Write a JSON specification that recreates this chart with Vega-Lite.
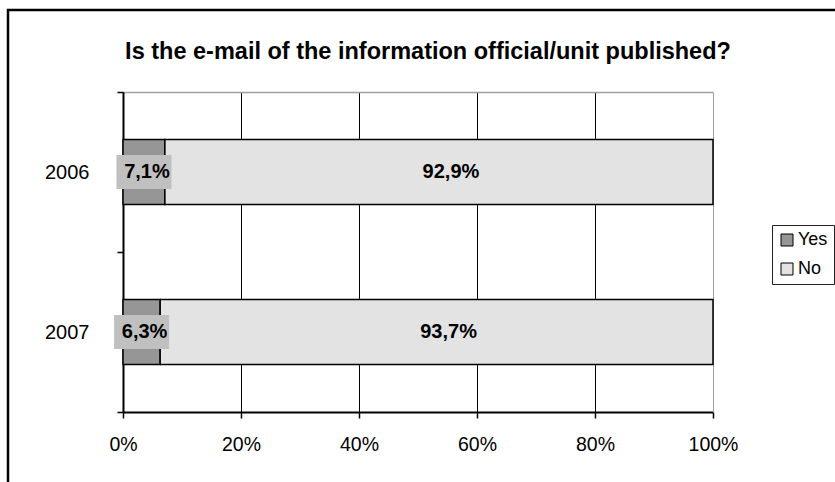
{
  "$schema": "https://vega.github.io/schema/vega-lite/v6.json",
  "width": 832,
  "height": 477,
  "autosize": {"type": "none"},
  "padding": {"left": 8, "top": 10, "right": 0, "bottom": 0},
  "background": "white",
  "title": {
    "text": "Is the e-mail of the information official/unit published?",
    "anchor": "middle",
    "frame": "group",
    "fontSize": 23.5,
    "fontWeight": "bold",
    "font": "Liberation Sans",
    "color": "black",
    "offset": -82,
    "baseline": "alphabetic",
    "dx": 4
  },
  "data": {
    "values": [
      {"year": "2006", "answer": "Yes", "value": 0.071},
      {"year": "2006", "answer": "No", "value": 0.929},
      {"year": "2007", "answer": "Yes", "value": 0.063},
      {"year": "2007", "answer": "No", "value": 0.937}
    ]
  },
  "encoding": {
    "y": {
      "field": "year",
      "type": "nominal",
      "scale": {"domain": ["2006", "2007"], "range": [82, 402], "paddingInner": 0, "paddingOuter": 0},
      "axis": {
        "orient": "left",
        "offset": -115,
        "tickBand": "extent",
        "domainColor": "black",
        "domainWidth": 2,
        "tickColor": "black",
        "tickWidth": 1.5,
        "tickSize": 6,
        "labelFontSize": 20,
        "labelColor": "black",
        "labelPadding": 28,
        "title": null,
        "grid": false
      }
    }
  },
  "layer": [
    {
      "mark": {"type": "bar", "stroke": "black", "strokeWidth": 1.5, "height": {"band": 0.406}},
      "encoding": {
        "x": {
          "field": "value",
          "type": "quantitative",
          "stack": "zero",
          "scale": {"domain": [0, 1], "range": [115, 705]},
          "axis": {
            "orient": "bottom",
            "offset": -75,
            "format": ".0%",
            "values": [0, 0.2, 0.4, 0.6, 0.8, 1],
            "grid": false,
            "labelFlush": false,
            "labelOverlap": false,
            "domainColor": "black",
            "domainWidth": 2,
            "tickColor": "black",
            "tickWidth": 1.5,
            "tickSize": 6,
            "labelFontSize": 19.5,
            "labelColor": "black",
            "labelPadding": 17,
            "title": null
          }
        },
        "color": {
          "field": "answer",
          "type": "nominal",
          "scale": {"domain": ["Yes", "No"], "range": ["#969696", "#e3e3e3"]},
          "legend": {
            "orient": "none",
            "legendX": 764,
            "legendY": 215,
            "title": null,
            "strokeColor": "#222",
            "fillColor": "white",
            "padding": 6,
            "symbolType": "square",
            "symbolSize": 144,
            "symbolStrokeColor": "black",
            "symbolStrokeWidth": 1,
            "labelFontSize": 18,
            "labelColor": "black",
            "rowPadding": 11,
            "labelOffset": 2
          }
        },
        "order": {"field": "answer", "sort": "descending"}
      }
    },
    {
      "mark": {"type": "point", "shape": "M-1,-0.618H1V0.618H-1Z", "size": 3025, "filled": true, "color": "#c0c0c0", "dx": 3},
      "encoding": {
        "x": {
          "field": "value",
          "type": "quantitative",
          "stack": "zero",
          "bandPosition": 0.5,
          "axis": {
            "orient": "top",
            "offset": -82,
            "values": [0, 0.2, 0.4, 0.6, 0.8, 1],
            "labels": false,
            "tickSize": -320,
            "tickWidth": 1,
            "tickColor": {"condition": {"test": "datum.value === 1", "value": "#a0a0a0"}, "value": "black"},
            "domainColor": "#a0a0a0",
            "domainWidth": 1.5,
            "grid": false,
            "title": null
          }
        },
        "detail": {"field": "answer"},
        "order": {"field": "answer", "sort": "descending"},
        "opacity": {"condition": {"test": "datum.answer === 'Yes'", "value": 1}, "value": 0}
      }
    },
    {
      "mark": {"type": "text", "fontWeight": "bold", "fontSize": 20, "color": "black", "dx": 3, "baseline": "middle"},
      "encoding": {
        "x": {"field": "value", "type": "quantitative", "stack": "zero", "bandPosition": 0.5, "axis": null},
        "detail": {"field": "answer"},
        "order": {"field": "answer", "sort": "descending"},
        "text": {"condition": {"test": "datum.answer === 'Yes'", "field": "value", "type": "quantitative", "format": ".1%"}, "value": ""}
      }
    },
    {
      "mark": {"type": "text", "fontWeight": "bold", "fontSize": 20, "color": "black", "dx": 12, "baseline": "middle"},
      "encoding": {
        "x": {"field": "value", "type": "quantitative", "stack": "zero", "bandPosition": 0.5, "axis": null},
        "detail": {"field": "answer"},
        "order": {"field": "answer", "sort": "descending"},
        "text": {"condition": {"test": "datum.answer === 'No'", "field": "value", "type": "quantitative", "format": ".1%"}, "value": ""}
      }
    }
  ],
  "resolve": {"axis": {"x": "independent"}},
  "config": {
    "font": "Liberation Sans",
    "locale": {"number": {"decimal": ",", "thousands": ".", "grouping": [3], "currency": ["", " €"]}},
    "view": {"stroke": "black", "strokeWidth": 2.5, "fill": "white"}
  }
}
